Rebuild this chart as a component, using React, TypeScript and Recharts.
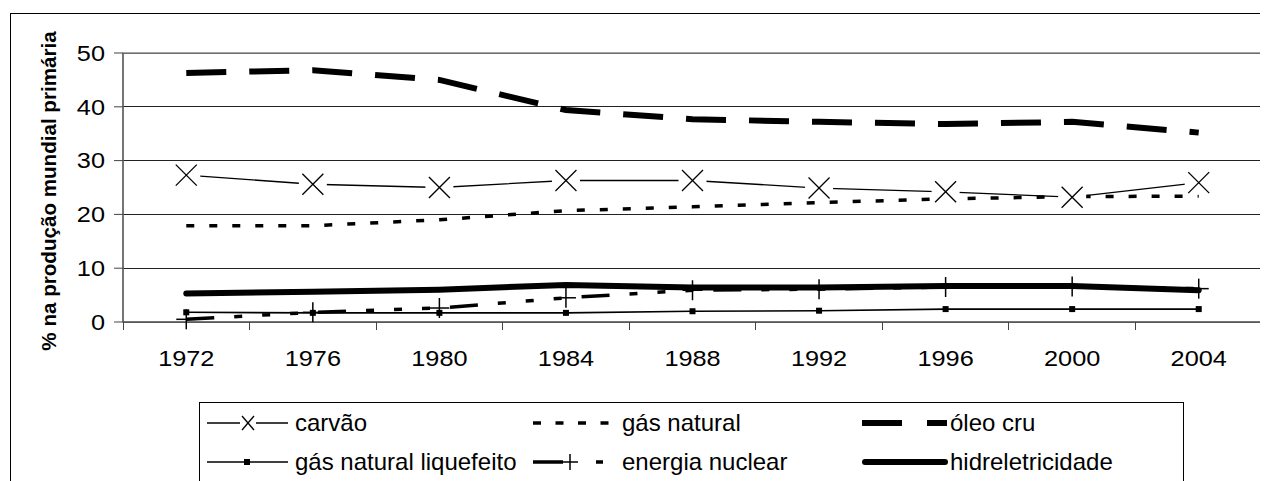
import React from 'react';
import { LineChart, Line, XAxis, YAxis, CartesianGrid, Legend, ReferenceArea } from 'recharts';

const years = [1972, 1976, 1980, 1984, 1988, 1992, 1996, 2000, 2004];
const carvao = [27.3, 25.6, 25.0, 26.3, 26.3, 24.9, 24.2, 23.2, 25.9];
const gasNatural = [17.9, 17.9, 19.0, 20.7, 21.4, 22.2, 22.9, 23.3, 23.4];
const oleoCru = [46.3, 46.8, 45.0, 39.4, 37.7, 37.2, 36.8, 37.2, 35.2];
const gnl = [1.8, 1.7, 1.7, 1.7, 2.0, 2.1, 2.4, 2.4, 2.4];
const nuclear = [0.5, 1.8, 2.6, 4.5, 5.9, 6.1, 6.5, 6.6, 6.2];
const hidro = [5.3, 5.6, 6.0, 6.9, 6.4, 6.4, 6.7, 6.7, 5.9];

const yTicks = [0, 10, 20, 30, 40, 50];
const xAxisTicks = [1970, 1972, 1974, 1976, 1978, 1980, 1982, 1984, 1986, 1988, 1990, 1992, 1994, 1996, 1998, 2000, 2002, 2004, 2006];
const yLabel = '% na produção mundial primária';

const names = {
  carvao: 'carvão',
  gasNatural: 'gás natural',
  oleoCru: 'óleo cru',
  gnl: 'gás natural liquefeito',
  nuclear: 'energia nuclear',
  hidro: 'hidreletricidade',
};

const data = years.map((year, i) => ({
  year,
  carvao: carvao[i],
  gasNatural: gasNatural[i],
  oleoCru: oleoCru[i],
  gnl: gnl[i],
  nuclear: nuclear[i],
  hidro: hidro[i],
}));

const FONT = '"Liberation Sans", Arial, sans-serif';
const TICK_FS = 22;
const TICK_SX = 1.15;

const XDot = (props: any) => {
  const { cx, cy, index } = props;
  if (cx == null || cy == null) return <g key={index} />;
  return (
    <g key={`x-${index}`}>
      <rect x={cx - 14} y={cy - 12} width={28} height={24} fill="#fff" />
      <line x1={cx - 10.5} y1={cy - 10.5} x2={cx + 10.5} y2={cy + 10.5} stroke="#000" strokeWidth={1.3} />
      <line x1={cx - 10.5} y1={cy + 10.5} x2={cx + 10.5} y2={cy - 10.5} stroke="#000" strokeWidth={1.3} />
    </g>
  );
};

const SquareDot = (props: any) => {
  const { cx, cy, index } = props;
  if (cx == null || cy == null) return <g key={index} />;
  return <rect key={`s-${index}`} x={cx - 3} y={cy - 3} width={6} height={6} fill="#000" />;
};

const PlusDot = (props: any) => {
  const { cx, cy, index } = props;
  if (cx == null || cy == null) return <g key={index} />;
  return (
    <g key={`p-${index}`}>
      <line x1={cx} y1={cy - 10} x2={cx} y2={cy + 10} stroke="#000" strokeWidth={1.5} />
      <line x1={cx - 10} y1={cy} x2={cx + 10} y2={cy} stroke="#000" strokeWidth={1.5} />
    </g>
  );
};

const XTick = (props: any) => {
  const { x, y, payload } = props;
  const v = payload.value;
  if (years.includes(v)) {
    return (
      <g transform={`translate(${x},${y}) scale(${TICK_SX},1)`}>
        <text x={0} y={0} dy="0.71em" textAnchor="middle" fontSize={TICK_FS} fill="#000" fontFamily={FONT}>
          {v}
        </text>
      </g>
    );
  }
  return <line x1={x} x2={x} y1={y - 28} y2={y - 20} stroke="#444" strokeWidth={1} shapeRendering="crispEdges" />;
};

const YTick = (props: any) => {
  const { x, y, payload } = props;
  return (
    <g transform={`translate(${x},${y}) scale(${TICK_SX},1)`}>
      <text x={0} y={0} dy="0.355em" textAnchor="end" fontSize={TICK_FS} fill="#000" fontFamily={FONT}>
        {payload.value}
      </text>
    </g>
  );
};

const YLabel = (props: any) => {
  const vb = props.viewBox || { x: 0, y: 45, width: 115, height: 269 };
  const x = vb.x + 48;
  const y = vb.y + vb.height / 2 + 3.5;
  return (
    <text
      x={x}
      y={y}
      transform={`rotate(-90 ${x} ${y})`}
      textAnchor="middle"
      fontSize={20.6}
      fontWeight="bold"
      fill="#000"
      fontFamily={FONT}
    >
      {yLabel}
    </text>
  );
};

const LegendContent = () => {
  const r1 = 21;
  const r2 = 60;
  const t1 = 29;
  const t2 = 68;
  const txt = { fontSize: 24, fill: '#000', fontFamily: FONT } as any;
  return (
    <div style={{ width: 985, height: 90, border: '1px solid #000', boxSizing: 'border-box', background: '#fff' }}>
      <svg width={985} height={90} style={{ display: 'block', position: 'absolute', left: 0, top: 0 }}>
        {/* carvão */}
        <line x1={8} x2={89} y1={r1} y2={r1} stroke="#000" strokeWidth={1.3} />
        <rect x={41} y={r1 - 9} width={16} height={18} fill="#fff" />
        <line x1={43} y1={r1 - 7} x2={55} y2={r1 + 7} stroke="#000" strokeWidth={1.3} />
        <line x1={43} y1={r1 + 7} x2={55} y2={r1 - 7} stroke="#000" strokeWidth={1.3} />
        <text x={96} y={t1} {...txt}>{names.carvao}</text>
        {/* gás natural */}
        <line x1={334} x2={412} y1={r1} y2={r1} stroke="#000" strokeWidth={3.5} strokeDasharray="8 14.5" />
        <text x={423} y={t1} {...txt}>{names.gasNatural}</text>
        {/* óleo cru */}
        <line x1={663} x2={748} y1={r1} y2={r1} stroke="#000" strokeWidth={6} strokeDasharray="40 25" />
        <text x={751} y={t1} {...txt}>{names.oleoCru}</text>
        {/* gnl */}
        <line x1={8} x2={89} y1={r2} y2={r2} stroke="#000" strokeWidth={1.6} />
        <rect x={45} y={r2 - 3} width={6} height={6} fill="#000" />
        <text x={96} y={t2} {...txt}>{names.gnl}</text>
        {/* nuclear */}
        <line x1={334} x2={412} y1={r2} y2={r2} stroke="#000" strokeWidth={3.5} strokeDasharray="30 33 7 20" />
        <line x1={371} x2={371} y1={r2 - 8} y2={r2 + 8} stroke="#000" strokeWidth={1.5} />
        <line x1={363} x2={379} y1={r2} y2={r2} stroke="#000" strokeWidth={1.5} />
        <text x={423} y={t2} {...txt}>{names.nuclear}</text>
        {/* hidro */}
        <line x1={666} x2={746} y1={r2} y2={r2} stroke="#000" strokeWidth={6} strokeLinecap="round" />
        <text x={751} y={t2} {...txt}>{names.hidro}</text>
      </svg>
    </div>
  );
};

export default function App() {
  return (
    <div style={{ position: 'relative', width: 1260, height: 473, overflow: 'hidden', fontFamily: FONT }}>
      <div
        style={{
          position: 'absolute',
          left: 2,
          top: 5,
          width: 1400,
          height: 700,
          border: '1px solid #000',
        }}
      />
      <LineChart width={1260} height={473} data={data} margin={{ top: 45, right: 6, left: 0, bottom: 0 }}>
        <CartesianGrid vertical={false} stroke="#222" shapeRendering="crispEdges" />
        <XAxis
          dataKey="year"
          type="number"
          domain={[1970, 2006]}
          ticks={xAxisTicks}
          interval={0}
          height={159}
          tickSize={8}
          tickMargin={20}
          tickLine={false}
          axisLine={{ stroke: '#444' }}
          tick={<XTick />}
        />
        <YAxis
          type="number"
          domain={[0, 50]}
          ticks={yTicks}
          interval={0}
          width={115}
          tickSize={9}
          tickMargin={9}
          axisLine={{ stroke: '#444' }}
          tickLine={{ stroke: '#444' }}
          tick={<YTick />}
          label={{ content: <YLabel /> } as any}
        />
        <ReferenceArea x1={1970} x2={2006} y1={0} y2={50} fill="none" stroke="#888" strokeWidth={1.5} ifOverflow="visible" />
        <Line
          dataKey="carvao"
          name={names.carvao}
          stroke="#000"
          strokeWidth={1.3}
          dot={XDot}
          activeDot={false}
          isAnimationActive={false}
        />
        <Line
          dataKey="gasNatural"
          name={names.gasNatural}
          stroke="#000"
          strokeWidth={3.5}
          strokeDasharray="8 15"
          dot={false}
          activeDot={false}
          isAnimationActive={false}
        />
        <Line
          dataKey="oleoCru"
          name={names.oleoCru}
          stroke="#000"
          strokeWidth={6}
          strokeDasharray="40 23"
          dot={false}
          activeDot={false}
          isAnimationActive={false}
        />
        <Line
          dataKey="gnl"
          name={names.gnl}
          stroke="#000"
          strokeWidth={1.6}
          dot={SquareDot}
          activeDot={false}
          isAnimationActive={false}
        />
        <Line
          dataKey="nuclear"
          name={names.nuclear}
          stroke="#000"
          strokeWidth={3.5}
          strokeDasharray="28 20 8 20 8 20 8 20"
          dot={PlusDot}
          activeDot={false}
          isAnimationActive={false}
        />
        <Line
          dataKey="hidro"
          name={names.hidro}
          stroke="#000"
          strokeWidth={6}
          strokeLinecap="round"
          strokeLinejoin="round"
          dot={false}
          activeDot={false}
          isAnimationActive={false}
        />
        <Legend
          layout="horizontal"
          verticalAlign="middle"
          align="center"
          content={<LegendContent />}
          wrapperStyle={{ position: 'absolute', left: 191, top: 394, width: 985, height: 90 }}
        />
      </LineChart>
    </div>
  );
}
